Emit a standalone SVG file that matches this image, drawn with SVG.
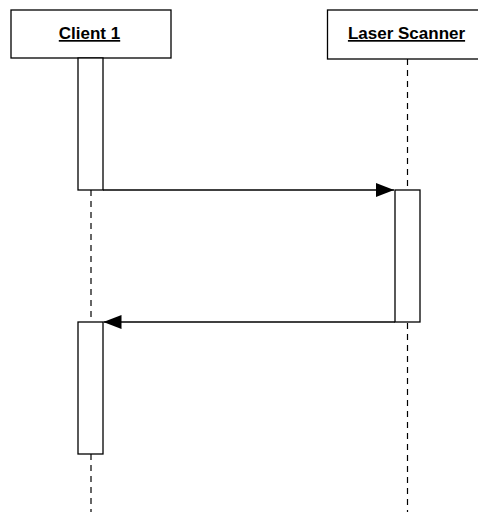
<svg xmlns="http://www.w3.org/2000/svg" width="478" height="512" viewBox="0 0 478 512">
<defs>
<style>
.box{fill:#fff;stroke:#000;stroke-width:1.3}
.life{stroke:#000;stroke-width:1.2;stroke-dasharray:6,5;fill:none}
.msg{stroke:#000;stroke-width:1.3;fill:none}
.lbl{font-family:"Liberation Sans",Arial,sans-serif;font-size:17px;font-weight:bold;text-decoration:underline;text-anchor:middle;fill:#000}
</style>
<marker id="arr" viewBox="0 0 18 14" markerWidth="18" markerHeight="14" refX="18" refY="7" orient="auto" markerUnits="userSpaceOnUse">
<path d="M0,0 L18,7 L0,14 Z" fill="#000"/>
</marker>
</defs>
<rect width="478" height="512" fill="#fff"/>
<g id="lifelines">
<line class="life" x1="91" y1="190" x2="91" y2="512"/>
<line class="life" x1="407.5" y1="59" x2="407.5" y2="512"/>
</g>
<g id="client1">
<rect class="box" x="11" y="10" width="160" height="48"/>
<text class="lbl" x="89.5" y="39">Client 1</text>
</g>
<g id="laserScanner">
<rect class="box" x="327.5" y="10" width="160" height="49"/>
<text class="lbl" x="406.5" y="39">Laser Scanner</text>
</g>
<g id="act1">
<rect class="box" x="78" y="58" width="25" height="132"/>
</g>
<g id="act2">
<rect class="box" x="395" y="190" width="25" height="132"/>
</g>
<g id="act3">
<rect class="box" x="78" y="322" width="25" height="132"/>
</g>
<g id="connectors">
<line class="msg" x1="103" y1="190" x2="394" y2="190" marker-end="url(#arr)"/>
<line class="msg" x1="395" y1="322" x2="103.5" y2="322" marker-end="url(#arr)"/>
</g>
</svg>
